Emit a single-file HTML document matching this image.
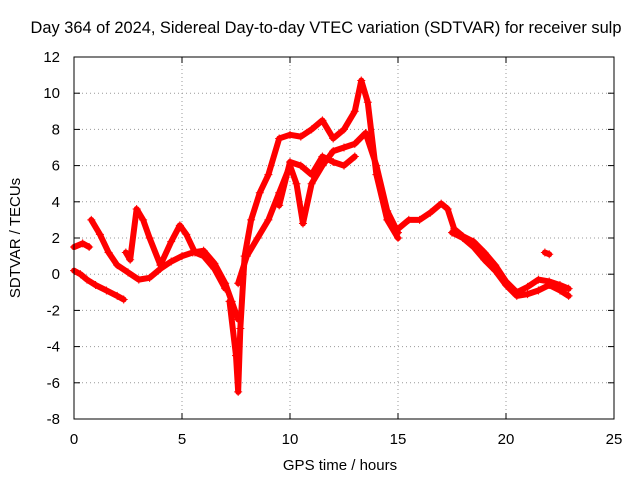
<!DOCTYPE html>
<html><head><meta charset="utf-8"><style>
body{margin:0;background:#fff}
svg text{font-family:"Liberation Sans",sans-serif;font-size:15px;fill:#000}
</style></head><body>
<svg id="chart" width="640" height="480" viewBox="0 0 640 480" xmlns="http://www.w3.org/2000/svg">
<text x="326" y="33" text-anchor="middle" style="font-size:16.4px">Day 364 of 2024, Sidereal Day-to-day VTEC variation (SDTVAR) for receiver sulp</text>
<text x="340" y="470" text-anchor="middle">GPS time / hours</text>
<text x="20" y="238" text-anchor="middle" transform="rotate(-90 20 238)">SDTVAR / TECUs</text>
<g id="grid"></g>
<g id="ticks"></g>
<g id="marks"></g>
<rect x="74" y="57" width="540" height="362" fill="none" stroke="#000" stroke-width="1"/>
</svg>
<script>
const xTicks=[0,5,10,15,20,25];
const yTicks=[-8,-6,-4,-2,0,2,4,6,8,10,12];
const t1=[0,0.3,0.6,1.0,1.5,2.0,2.3];
const v1=[0.2,0,-0.3,-0.6,-0.9,-1.2,-1.4];
const t2=[0,0.4,0.7];
const v2=[1.5,1.7,1.5];
const t3=[0.8,1.2,1.6,2.0,2.5,3.0,3.5,4.0,4.5,5.0,5.5,6.0,6.5,7.0,7.3,7.6];
const v3=[3.0,2.2,1.2,0.5,0.1,-0.3,-0.2,0.3,0.7,1.0,1.2,1.3,0.6,-0.5,-1.5,-2.5];
const t4=[2.4,2.6,2.9,3.2,3.5,4.0,4.5,4.9,5.2,5.6,6.0,6.5,7.0];
const v4=[1.2,0.8,3.6,3.0,2.0,0.5,1.8,2.7,2.2,1.2,1.0,0.3,-0.8];
const t5=[7.2,7.5,7.6,7.7,7.9,8.2,8.6,9.0,9.5,10.0,10.5,11.0,11.5,12.0,12.5,13.0,13.3,13.6,14.0,14.5,15.0];
const v5=[-1.5,-4.5,-6.5,-3.0,1.0,3.0,4.5,5.5,7.5,7.7,7.6,8.0,8.5,7.5,8.0,9.0,10.7,9.5,5.5,3.0,2.0];
const t6=[7.6,8.0,8.5,9.0,9.5,10.0,10.3,10.6,11.0,11.5,12.0,12.5,13.0,13.5,14.0,14.5,15.0];
const v6=[-0.5,1.0,2.0,3.0,4.5,6.0,5.0,2.8,5.0,6.0,6.8,7.0,7.2,7.8,6.0,3.5,2.3];
const t7=[9.5,10.0,10.5,11.0,11.5,12.0,12.5,13.0];
const v7=[3.8,6.2,6.0,5.5,6.5,6.2,6.0,6.5];
const t8=[15.0,15.5,16.0,16.5,17.0,17.3,17.6,18.0,18.5,19.0,19.5,20.0,20.5,21.0,21.5,22.0,22.5,22.9];
const v8=[2.5,3.0,3.0,3.4,3.9,3.6,2.5,2.1,1.8,1.2,0.5,-0.4,-1.0,-0.7,-0.3,-0.4,-0.6,-0.8];
const t9=[17.5,18.0,18.5,19.0,19.5,20.0,20.5,21.0,21.5,22.0,22.5,22.9];
const v9=[2.3,2.0,1.5,0.8,0.2,-0.6,-1.2,-1.1,-0.9,-0.6,-0.9,-1.2];
const t10=[21.8,22.0];
const v10=[1.2,1.1];
const series=[[t1,v1],[t2,v2],[t3,v3],[t4,v4],[t5,v5],[t6,v6],[t7,v7],[t8,v8],[t9,v9],[t10,v10]];
const X=t=>74+t*540/25;
const Y=v=>419-(v+8)*362/20;
const NS="http://www.w3.org/2000/svg";
const grid=document.getElementById('grid'),ticks=document.getElementById('ticks'),marks=document.getElementById('marks');
function mk(tag,attrs,parent){const e=document.createElementNS(NS,tag);for(const k in attrs)e.setAttribute(k,attrs[k]);parent.appendChild(e);return e;}
xTicks.forEach(t=>{
 const x=X(t);
 if(t>0&&t<25){const g=mk('line',{x1:x,y1:57,x2:x,y2:419,stroke:'#999','stroke-dasharray':'1,3'},grid);
 
 }
 const l=mk('text',{x:x,y:444,'text-anchor':'middle'},ticks);l.textContent=t;
 
 
 mk('line',{x1:x,y1:419,x2:x,y2:413,stroke:'#000'},ticks);
 mk('line',{x1:x,y1:57,x2:x,y2:63,stroke:'#000'},ticks);
});
yTicks.forEach(v=>{
 const y=Y(v);
 if(v>-8&&v<12){const g=mk('line',{x1:74,y1:y,x2:614,y2:y,stroke:'#999','stroke-dasharray':'1,3'},grid);
 
 }
 const l=mk('text',{x:60,y:y+5,'text-anchor':'end'},ticks);l.textContent=v;
 
 
 mk('line',{x1:74,y1:y,x2:80,y2:y,stroke:'#000'},ticks);
 mk('line',{x1:614,y1:y,x2:608,y2:y,stroke:'#000'},ticks);
});
series.forEach((s,i)=>{
 const [ts,vs]=s;
 const pts=ts.map((t,j)=>X(t)+','+Y(vs[j])).join(' ');
 const pl=mk('polyline',{points:pts,fill:'none',stroke:'#f00','stroke-width':6,'stroke-linejoin':'round','stroke-linecap':'round'},marks);
 
 
 ts.forEach((t,j)=>{
  const x=X(t),y=Y(vs[j]);
  const p=mk('path',{d:`M${x-4},${y}H${x+4}M${x},${y-4}V${y+4}`,stroke:'#f00','stroke-width':1},marks);
  
  
 });
});
</script>
</body></html>
